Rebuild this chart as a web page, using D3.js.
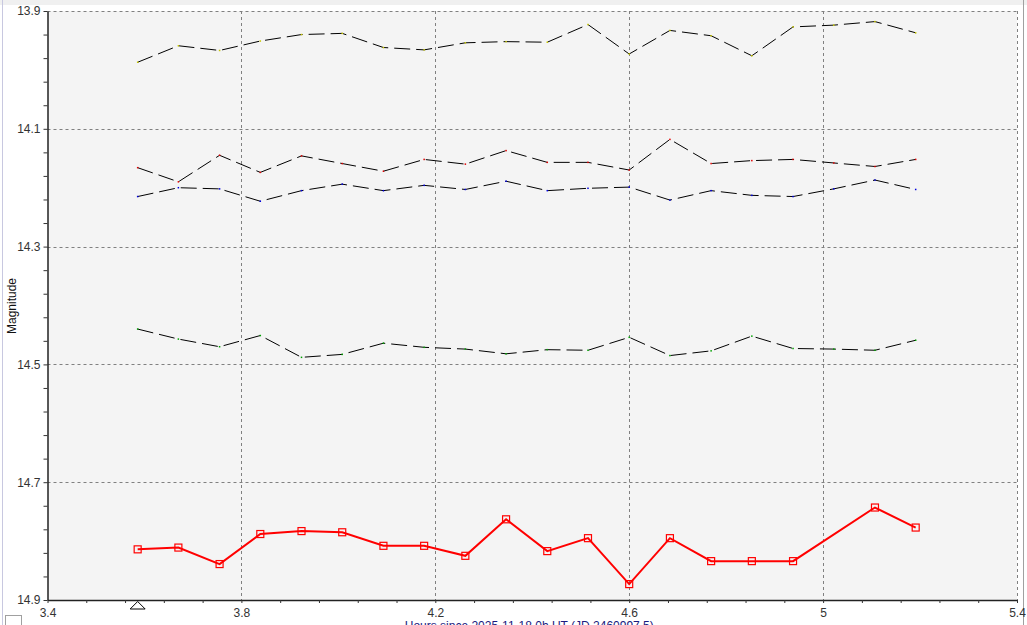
<!DOCTYPE html>
<html lang="en">
<head>
  <meta charset="UTF-8">
  <title>Magnitude</title>
  <style>
  body {
    margin: 0;
    background: #fff;
    font-family: "Liberation Sans", Arial, sans-serif;
  }
  .tick text {
    font: 12px "Liberation Sans", Arial, sans-serif;
    fill: #333;
  }
  .grid line {
    stroke: #808080;
    stroke-dasharray: 3,3;
  }
  </style>
</head>
<body>
  <svg width="1027" height="625"></svg>
  <script src="https://cdnjs.cloudflare.com/ajax/libs/d3/7.8.5/d3.min.js"></script>
  <script>
  // observation times (hours)
  var hours = [3.586, 3.670, 3.755, 3.839, 3.924, 4.008, 4.093, 4.177, 4.262, 4.346,
               4.431, 4.515, 4.600, 4.684, 4.769, 4.853, 4.938, 5.022, 5.107, 5.191];

  // target star (red), null = no measure
  var target = [14.814, 14.811, 14.839, 14.788, 14.783, 14.785, 14.808, 14.808, 14.825, 14.763,
                14.817, 14.795, 14.873, 14.795, 14.834, 14.834, 14.834, null, 14.743, 14.777];

  // comparison stars (dashed black)
  var comp1 = [13.987, 13.959, 13.967, 13.951, 13.940, 13.938, 13.962, 13.966, 13.954, 13.952,
               13.953, 13.923, 13.973, 13.933, 13.942, 13.976, 13.927, 13.924, 13.918, 13.937];
  var comp2 = [14.166, 14.190, 14.145, 14.174, 14.146, 14.159, 14.172, 14.152, 14.160, 14.137,
               14.157, 14.157, 14.170, 14.118, 14.159, 14.154, 14.152, 14.158, 14.164, 14.152];
  var comp3 = [14.215, 14.200, 14.202, 14.223, 14.205, 14.194, 14.205, 14.196, 14.203, 14.189,
               14.205, 14.201, 14.199, 14.221, 14.205, 14.213, 14.215, 14.202, 14.187, 14.203];
  var comp4 = [14.440, 14.457, 14.470, 14.451, 14.488, 14.483, 14.464, 14.471, 14.474, 14.482,
               14.475, 14.476, 14.454, 14.485, 14.477, 14.452, 14.473, 14.474, 14.476, 14.459];
  var compDots = ["#c8c800", "#e00000", "#0000e0", "#00a000"];

  var xMajor = [3.4, 3.8, 4.2, 4.6, 5.0, 5.4];
  var yMajor = [13.9, 14.1, 14.3, 14.5, 14.7, 14.9];
  var xLabel = "Hours since 2025-11-18 0h UT (JD 2460997.5)";

  var svg = d3.select("svg");
  var pLeft = 47.5, pRight = 1017, pTop = 11, pBottom = 600;

  var x = d3.scaleLinear().domain([3.4, 5.4]).range([pLeft, pRight]);
  var y = d3.scaleLinear().domain([13.9, 14.9]).range([pTop, pBottom]);

  // frame bits
  svg.append("rect").attr("x", 0).attr("y", 0).attr("width", 1027).attr("height", 5).attr("fill", "#f0f0f0");
  svg.append("line").attr("x1", 2.5).attr("x2", 2.5).attr("y1", 0).attr("y2", 625).attr("stroke", "#c8c8e0");
  svg.append("line").attr("x1", 1023.5).attr("x2", 1023.5).attr("y1", 0).attr("y2", 625).attr("stroke", "#a0a0a0");
  svg.append("rect").attr("x", 5.5).attr("y", 615.5).attr("width", 16).attr("height", 12)
    .attr("fill", "#fff").attr("stroke", "#a0a0a0");

  svg.append("rect")
    .attr("x", pLeft).attr("y", pTop)
    .attr("width", pRight - pLeft).attr("height", pBottom - pTop)
    .attr("fill", "#f4f4f4");

  // grid
  var grid = svg.append("g").attr("class", "grid");
  grid.selectAll(".gx").data(xMajor.slice(1)).enter().append("line")
    .attr("x1", function(d) { return Math.round(x(d)) + 0.5; })
    .attr("x2", function(d) { return Math.round(x(d)) + 0.5; })
    .attr("y1", pTop).attr("y2", pBottom);
  grid.selectAll(".gy").data(yMajor.slice(0, -1)).enter().append("line")
    .attr("y1", function(d) { return Math.round(y(d)) + 0.5; })
    .attr("y2", function(d) { return Math.round(y(d)) + 0.5; })
    .attr("x1", pLeft).attr("x2", pRight);

  // axes
  var yTicks = d3.range(0, 26).map(function(i) { return +(13.9 + i * 0.04).toFixed(2); });
  var xTicks = d3.range(0, 26).map(function(i) { return +(3.4 + i * 0.08).toFixed(2); });
  var isMajor = function(list) {
    return function(d) { return list.some(function(m) { return Math.abs(m - d) < 1e-6; }) ? d3.format("")(+d.toFixed(1)) : ""; };
  };

  svg.append("g")
    .attr("transform", "translate(" + pLeft + ",0)")
    .call(d3.axisLeft(y).tickValues(yTicks).tickFormat(isMajor(yMajor)).tickSize(4).tickSizeOuter(0).tickPadding(3));
  svg.append("g")
    .attr("transform", "translate(0," + pBottom + ")")
    .call(d3.axisBottom(x).tickValues(xTicks).tickFormat(isMajor(xMajor)).tickSize(3).tickSizeOuter(0).tickPadding(5));
  svg.selectAll(".domain").attr("stroke", "#222").attr("stroke-width", 1.5);
  svg.selectAll(".tick line").attr("stroke", "#333");

  svg.append("text")
    .attr("transform", "translate(16,306) rotate(-90)")
    .attr("text-anchor", "middle")
    .style("font-size", "12px")
    .attr("fill", "#111")
    .text("Magnitude");
  svg.append("text")
    .attr("x", (pLeft + pRight) / 2 - 3).attr("y", 630)
    .attr("text-anchor", "middle")
    .style("font-size", "12px")
    .attr("fill", "#1a1a80")
    .text(xLabel);

  // comparison lines
  var line = d3.line()
    .x(function(d) { return x(d[0]); })
    .y(function(d) { return y(d[1]); });

  [comp1, comp2, comp3, comp4].forEach(function(s, k) {
    var pts = hours.map(function(h, i) { return [h, s[i]]; });
    svg.append("path")
      .attr("d", line(pts))
      .attr("fill", "none")
      .attr("stroke", "#000")
      .attr("stroke-width", 1)
      .attr("stroke-dasharray", "16,6");
    svg.selectAll(null).data(pts).enter().append("rect")
      .attr("x", function(d) { return x(d[0]) - 0.75; })
      .attr("y", function(d) { return y(d[1]) - 0.75; })
      .attr("width", 1.5).attr("height", 1.5)
      .attr("fill", compDots[k]);
  });

  // target
  var tpts = hours.map(function(h, i) { return [h, target[i]]; })
    .filter(function(d) { return d[1] != null; });
  svg.append("path")
    .attr("d", line(tpts))
    .attr("fill", "none")
    .attr("stroke", "#ff0000")
    .attr("stroke-width", 2);
  svg.selectAll(".mk").data(tpts).enter().append("rect")
    .attr("x", function(d) { return x(d[0]) - 3.5; })
    .attr("y", function(d) { return y(d[1]) - 3.5; })
    .attr("width", 7).attr("height", 7)
    .attr("fill", "none")
    .attr("stroke", "#ff0000")
    .attr("stroke-width", 1.2);

  // start marker under the axis
  var t0 = x(hours[0]);
  svg.append("path")
    .attr("d", "M" + t0 + "," + (pBottom + 1.5) + "L" + (t0 + 7.5) + "," + (pBottom + 9) + "L" + (t0 - 7.5) + "," + (pBottom + 9) + "Z")
    .attr("fill", "#fff")
    .attr("stroke", "#000");
  </script>
</body>
</html>
